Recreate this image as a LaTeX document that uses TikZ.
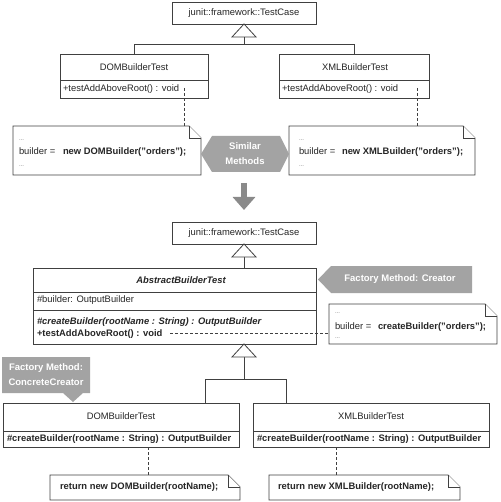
\documentclass[tikz,border=0pt]{standalone}
\usepackage{fontspec}
\setmainfont{Liberation Sans}
\usetikzlibrary{arrows.meta,fit}
\newcommand\umlnote[5]{%
  \draw[notest] (#2,#3) -- (#4-12,#3) -- (#4,#3+12) -- (#4,#5) -- (#2,#5) -- cycle;
  \draw[notest] (#4-12,#3) -- (#4-12,#3+12) -- (#4,#3+12);
  \path (#2,#3) coordinate (#1a) (#4,#5) coordinate (#1b);
  \node[inner sep=0pt, fit=(#1a)(#1b)] (#1) {};}
\begin{document}
\begin{tikzpicture}[x=1pt,y=-1pt,
  every node/.style={inner sep=0pt, outer sep=0pt, font=\fontsize{9.4}{11}\selectfont, text=black!85},
  box/.style={draw=black!75, line width=0.8pt, fill=white, rectangle},
  ln/.style={draw=black!75, line width=0.8pt},
  notest/.style={draw=black!75, line width=0.8pt, fill=white},
  dsh/.style={draw=black!75, line width=0.7pt, dash pattern=on 3pt off 2pt},
  gen/.style={draw=black!75, line width=0.8pt, fill=white},
  callout/.style={fill=black!36, draw=none},
  ctext/.style={text=white, font=\fontsize{9.5}{15}\selectfont\bfseries, align=center},
  dots/.style={font=\fontsize{6}{7}\selectfont, text=black!55, anchor=west},
  lt/.style={anchor=west}
]
\useasboundingbox (0,0) rectangle (500,502);

% ---------- top part ----------
\node[box, minimum width=144pt, minimum height=22pt] (tc1) at (244,13) {};
\node (tc1t) at (244,13) {junit::framework::TestCase};

\node[box, minimum width=148pt, minimum height=44pt] (dom1) at (134,76) {};
\draw[ln] (60,80) -- (208,80);
\node (dom1t) at (134,67) {DOMBuilderTest};
\node[lt] (dom1m) at (63,89) {+testAddAboveRoot() : void};

\node[box, minimum width=150pt, minimum height=44pt] (xml1) at (354,76) {};
\draw[ln] (279,80) -- (429,80);
\node (xml1t) at (355,67) {XMLBuilderTest};
\node[lt] (xml1m) at (282,89) {+testAddAboveRoot() : void};

\coordinate (g1) at ([yshift=-13pt]tc1.south);
\draw[ln] (g1) -- ++(0,7) -| (dom1.north);
\draw[ln] (g1) -- ++(0,7) -| (xml1.north);
\draw[gen] (tc1.south) -- ++(-12,13) -- ++(24,0) -- cycle;

\umlnote{n1}{13}{126}{201}{175}
\node[dots] (n1d1) at (19,140) {...};
\node[lt] (n1l) at (19,152) {\makebox[44pt][l]{builder =}\textbf{new DOMBuilder("orders");}};
\node[dots] (n1d2) at (19,166) {...};

\umlnote{n2}{289}{126}{475}{175}
\node[dots] (n2d1) at (299,140) {...};
\node[lt] (n2l) at (299,152) {\makebox[43pt][l]{builder =}\textbf{new XMLBuilder("orders");}};
\node[dots] (n2d2) at (299,166) {...};

\coordinate (d1) at (184,88);
\coordinate (d2) at (417,88);
\draw[dsh] (d1) -- (d1 |- n1.north);
\draw[dsh] (d2) -- (d2 |- n2.north);

\fill[callout] (201,154) -- (212,136) -- (280,136) -- (289,154) -- (280,172) -- (212,172) -- cycle;
\node[ctext] (sim) at (245,154) {Similar\\Methods};

\coordinate (ar1) at (244,183);
\coordinate (ar2) at (244,210);
\draw[line width=6.5pt, draw=black!46, -{Triangle[length=13pt,width=22pt]}] (ar1) -- (ar2);

% ---------- bottom part ----------
\node[box, minimum width=144pt, minimum height=22pt] (tc2) at (244,233) {};
\node (tc2t) at (244,233) {junit::framework::TestCase};

\node[box, minimum width=283pt, minimum height=76pt] (abs) at (174.5,306) {};
\draw[ln] (33,292) -- (316,292);
\draw[ln] (33,310) -- (316,310);
\node (abst) at (181,280) {\bfseries\itshape AbstractBuilderTest};
\node[lt] (absa) at (37,300) {\#builder: OutputBuilder};
\node[lt] (absm1) at (37,322) {\bfseries\itshape \#createBuilder(rootName : String) : OutputBuilder};
\node[lt] (absm2) at (37,334) {\bfseries +testAddAboveRoot() : void};

\draw[ln] ([yshift=-13pt]tc2.south) -- (tc2.south |- abs.north);
\draw[gen] (tc2.south) -- ++(-12,13) -- ++(24,0) -- cycle;

\fill[callout] (318,279.5) -- (331,266) -- (472,266) -- (472,293) -- (331,293) -- cycle;
\node[ctext] (creator) at (400,279.5) {Factory Method: Creator};

\umlnote{n3}{329}{304}{497}{344}
\node[dots] (n3d1) at (335,313) {...};
\node[lt] (n3l) at (335,327) {\makebox[43pt][l]{builder =}\textbf{createBuilder("orders");}};
\node[dots] (n3d2) at (335,338) {...};
\coordinate (d3) at (170,333);
\draw[dsh] (d3) -- (d3 -| n3.west);

\node[box, minimum width=236pt, minimum height=44pt] (dom2) at (121,425) {};
\draw[ln] (3,431) -- (239,431);
\node (dom2t) at (121,416) {DOMBuilderTest};
\node[lt] (dom2m) at (7,439) {\bfseries \#createBuilder(rootName : String) : OutputBuilder};

\node[box, minimum width=236pt, minimum height=44pt] (xml2) at (371,425) {};
\draw[ln] (253,431) -- (489,431);
\node (xml2t) at (371,416) {XMLBuilderTest};
\node[lt] (xml2m) at (257,439) {\bfseries \#createBuilder(rootName : String) : OutputBuilder};

\coordinate (g2) at ([yshift=-13pt]tc2.south |- abs.south);
\coordinate (j2) at (244,379);
\coordinate (dt) at ([xshift=-34pt]dom2.north east);
\coordinate (xt) at ([xshift=33pt]xml2.north west);
\draw[ln] (g2) -- (j2);
\draw[ln] (j2) -| (dt);
\draw[ln] (j2) -| (xt);
\draw[gen] (tc2.south |- abs.south) -- ++(-12,13) -- ++(24,0) -- cycle;

\fill[callout] (2,357) -- (90,357) -- (90,393) -- (83,393) -- (73,402) -- (63,393) -- (2,393) -- cycle;
\node[ctext] (concrete) at (46,375) {Factory Method:\\ConcreteCreator};

\umlnote{n4}{50}{475}{240}{500}
\node[lt] (n4l) at (60,487) {\bfseries return new DOMBuilder(rootName);};
\umlnote{n5}{269}{475}{460}{500}
\node[lt] (n5l) at (278,487) {\bfseries return new XMLBuilder(rootName);};

\coordinate (d4) at (148,447);
\coordinate (d5) at (336,447);
\draw[dsh] (d4) -- (d4 |- n4.north);
\draw[dsh] (d5) -- (d5 |- n5.north);
\end{tikzpicture}
\end{document}
